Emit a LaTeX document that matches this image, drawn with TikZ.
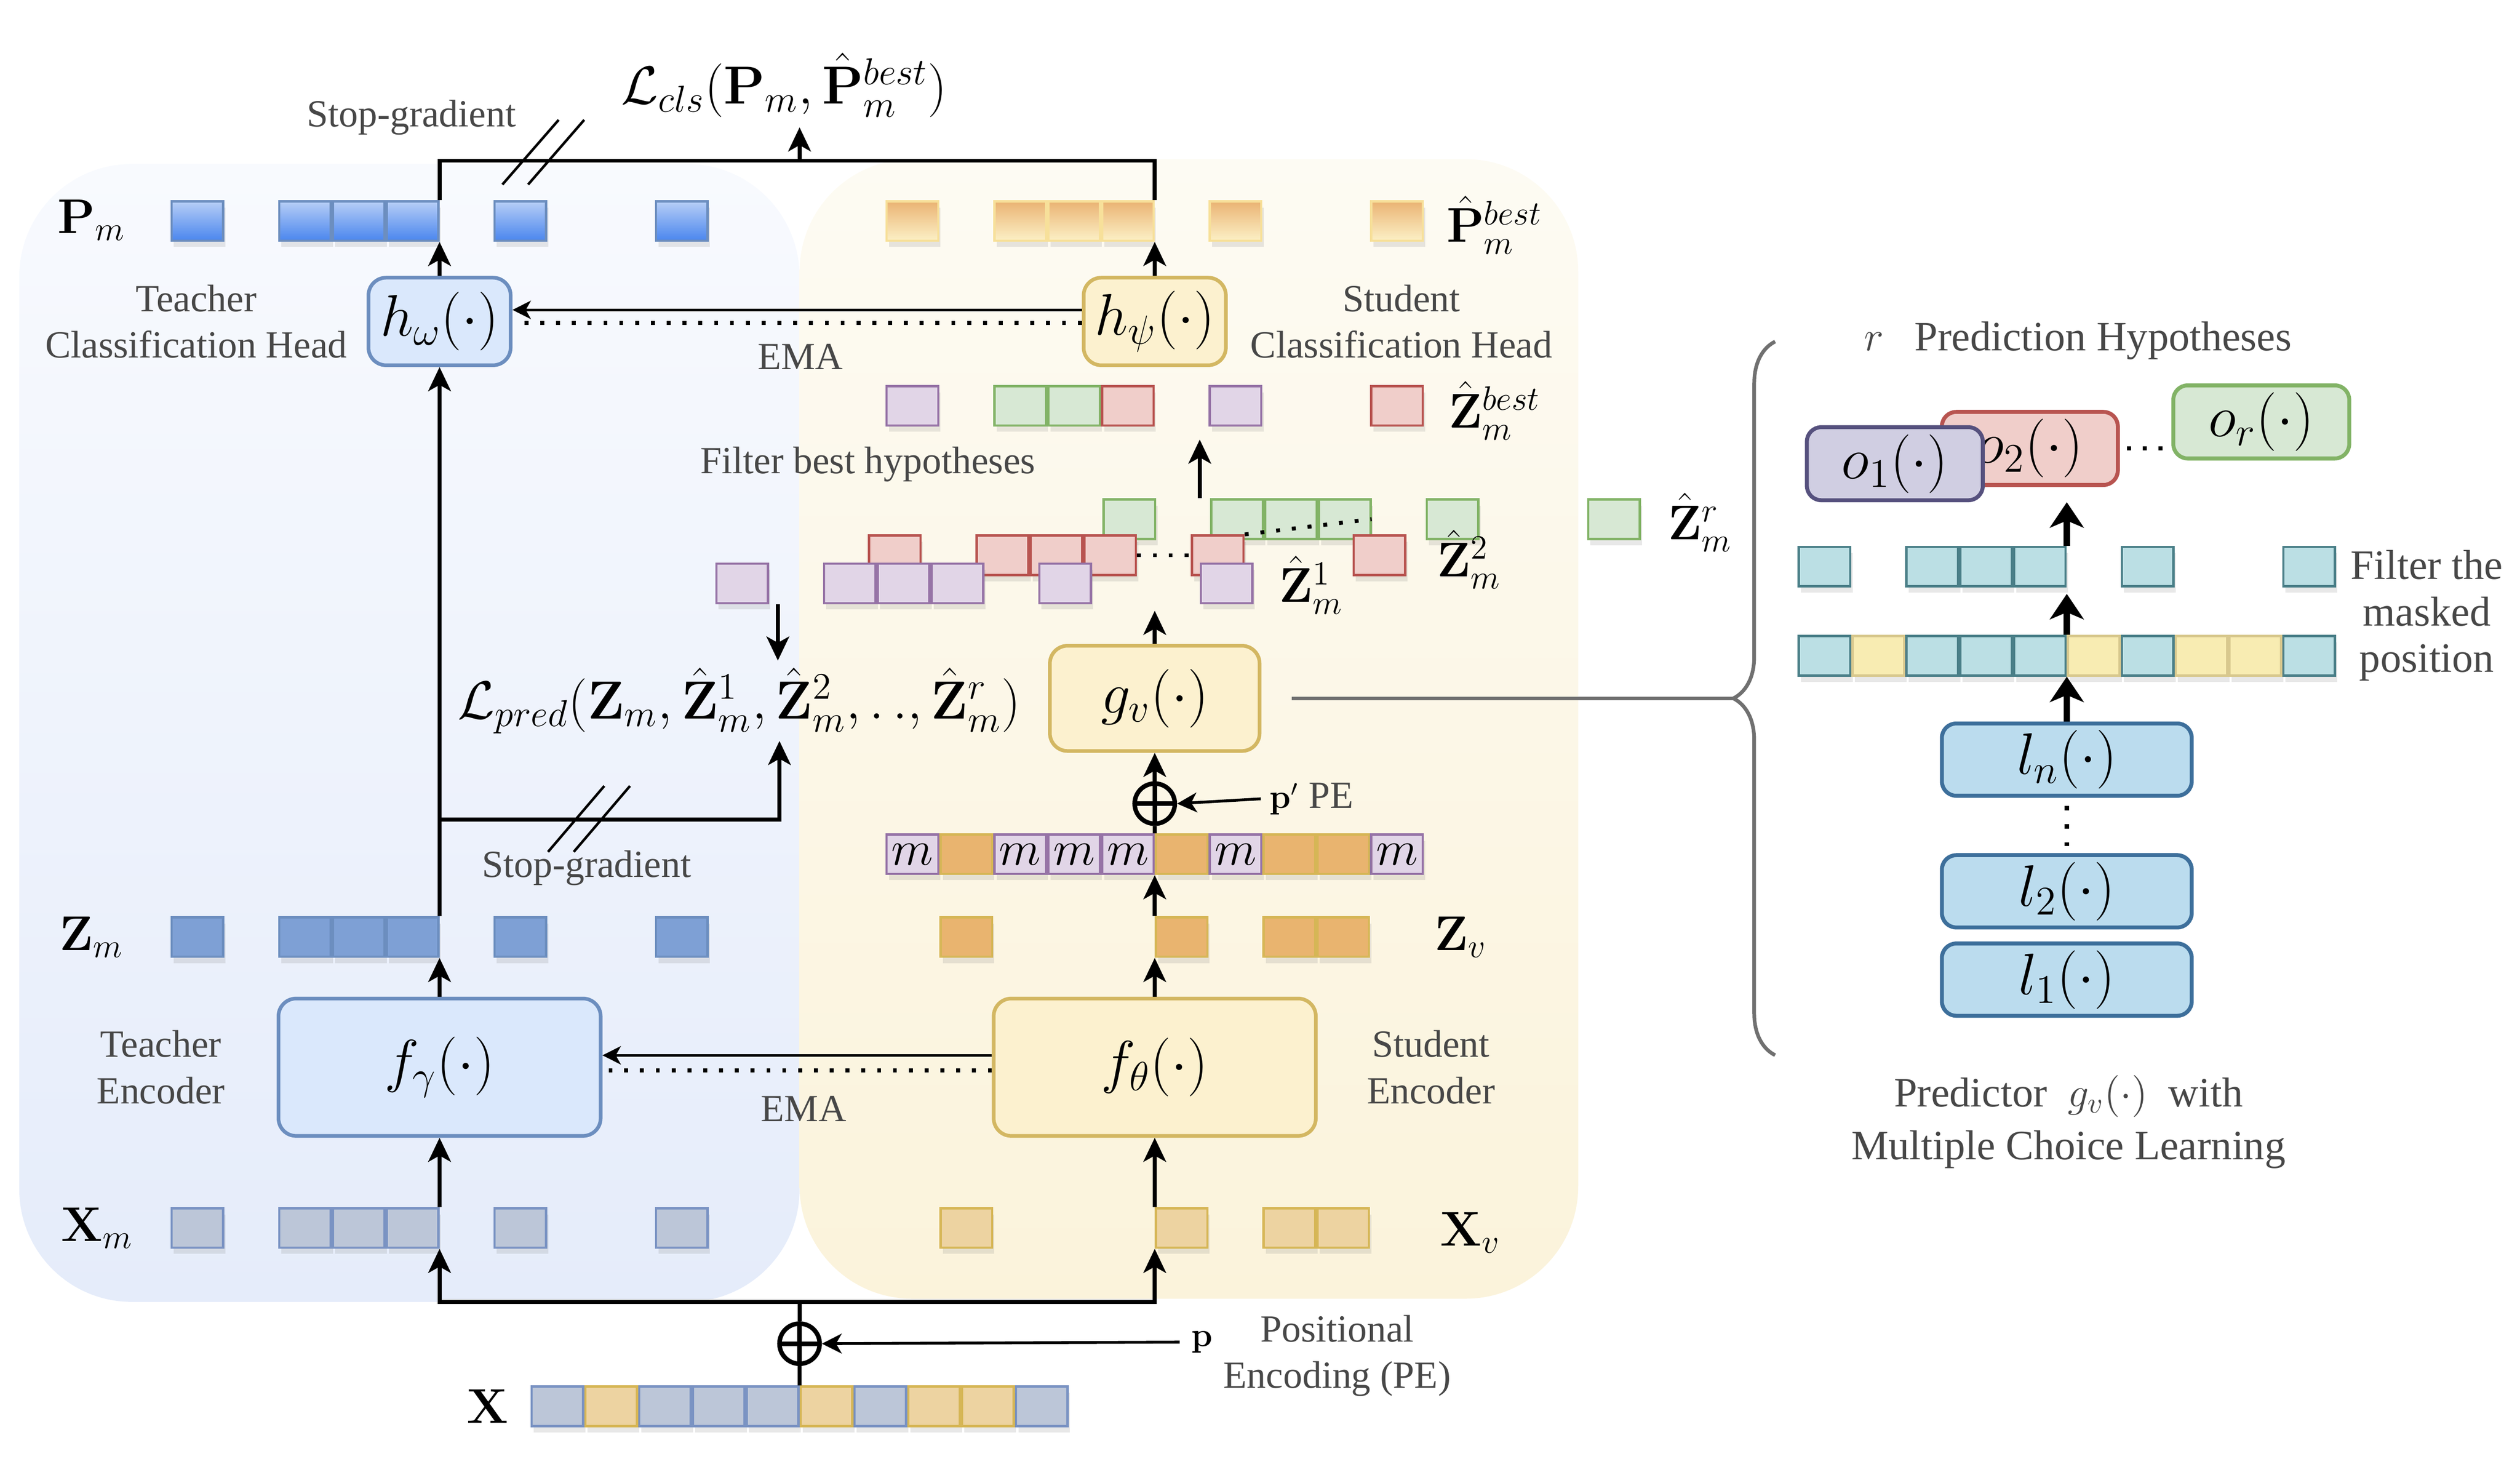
\RequirePackage{fix-cm}
\documentclass[tikz,border=0pt]{standalone}
\usepackage[no-math]{fontspec}
\setmainfont{Liberation Serif}
\usetikzlibrary{positioning, arrows.meta, shadows, decorations.pathreplacing}

%% Colours
\definecolor{tfill}{HTML}{DAE8FC}
\definecolor{tdraw}{HTML}{6C8EBF}
\definecolor{sfill}{HTML}{FCF1CF}
\definecolor{sdraw}{HTML}{D3B762}
\definecolor{pmtop}{HTML}{B7CEF6}
\definecolor{pmbot}{HTML}{4A86EE}
\definecolor{zmfill}{HTML}{7EA0D5}
\definecolor{xmfill}{HTML}{BCC6D8}
\definecolor{xmdraw}{HTML}{7A93C3}
\definecolor{pbtop}{HTML}{EAB373}
\definecolor{pbbot}{HTML}{FCF0C6}
\definecolor{pbdraw}{HTML}{F7E09A}
\definecolor{zvfill}{HTML}{E9B46F}
\definecolor{xvfill}{HTML}{EDD3A1}
\definecolor{vdraw}{HTML}{D6B656}
\definecolor{purpfill}{HTML}{E1D5E7}
\definecolor{purpdraw}{HTML}{9673A6}
\definecolor{redfill}{HTML}{F0CECA}
\definecolor{reddraw}{HTML}{B85450}
\definecolor{grnfill}{HTML}{D7E8D4}
\definecolor{grndraw}{HTML}{82B366}
\definecolor{cyanfill}{HTML}{BBDFE4}
\definecolor{cyandraw}{HTML}{4A7F88}
\definecolor{yelfill}{HTML}{F8ECB2}
\definecolor{yeldraw}{HTML}{D8C88E}
\definecolor{lfill}{HTML}{BBDCEE}
\definecolor{ldraw}{HTML}{3D6F9B}
\definecolor{ofill}{HTML}{D0CEE2}
\definecolor{odraw}{HTML}{56517E}
\definecolor{tbgtop}{HTML}{F8FAFE}
\definecolor{tbgbot}{HTML}{E5ECFA}
\definecolor{sbgtop}{HTML}{FDFBF3}
\definecolor{sbgbot}{HTML}{FBF3DB}
\definecolor{txtgray}{HTML}{474747}
\definecolor{bracegray}{HTML}{707070}

\begin{document}
\begin{tikzpicture}[
    x=0.02cm, y=-0.02cm, %% One unit is one pixel of the sketch, y grows downwards
    cell/.style={
        rectangle,
        draw,
        line width=0.8pt,
        minimum width=0.642cm,
        minimum height=0.492cm,
        inner sep=0pt,
        font=\LARGE,
        drop shadow={shadow xshift=0.8pt, shadow yshift=-2.2pt, opacity=0.18}
    },
    pm_cell/.style={cell, draw=tdraw, top color=pmtop, bottom color=pmbot},
    zm_cell/.style={cell, draw=tdraw, fill=zmfill},
    xm_cell/.style={cell, draw=xmdraw, fill=xmfill},
    pb_cell/.style={cell, draw=pbdraw, top color=pbtop, bottom color=pbbot},
    zv_cell/.style={cell, draw=vdraw, fill=zvfill},
    xv_cell/.style={cell, draw=vdraw, fill=xvfill},
    hp_cell/.style={cell, draw=purpdraw, fill=purpfill},
    hr_cell/.style={cell, draw=reddraw, fill=redfill},
    hg_cell/.style={cell, draw=grndraw, fill=grnfill},
    cy_cell/.style={cell, draw=cyandraw, fill=cyanfill},
    ye_cell/.style={cell, draw=yeldraw, fill=yelfill},
    t_box/.style={
        rectangle,
        rounded corners=0.22cm,
        draw=tdraw,
        fill=tfill,
        line width=1.3pt,
        inner sep=2pt,
        font=\huge
    },
    s_box/.style={t_box, draw=sdraw, fill=sfill},
    l_box/.style={
        rectangle,
        rounded corners=0.18cm,
        draw=ldraw,
        fill=lfill,
        line width=1.4pt,
        minimum width=3.11cm,
        minimum height=0.9cm,
        inner sep=2pt,
        font=\huge
    },
    o_box/.style={l_box, minimum width=2.19cm, minimum height=0.91cm},
    plus/.style={
        circle,
        draw,
        line width=1.6pt,
        minimum size=0.5cm,
        inner sep=0pt,
        path picture={\draw[line width=1.6pt]
            (path picture bounding box.north) -- (path picture bounding box.south)
            (path picture bounding box.west) -- (path picture bounding box.east);}
    },
    lbl/.style={font=\fontsize{13.6}{16.5}\selectfont, text=txtgray, align=center},
    rlbl/.style={font=\fontsize{14.8}{16.5}\selectfont, text=txtgray, align=center},
    mlbl/.style={font=\LARGE, text=black},
    big_math/.style={font=\fontsize{19}{22}\selectfont},
    arrow/.style={-{Stealth[length=8.5pt, width=8pt, inset=2.2pt]}, line width=1.4pt},
    ema_arrow/.style={-{Stealth[length=6.5pt, width=6.5pt, inset=1.8pt]}, line width=0.9pt},
    pe_arrow/.style={-{Stealth[length=7pt, width=7pt, inset=2pt]}, line width=1pt},
    big_arrow/.style={-{Stealth[length=9pt, width=12pt, inset=2.5pt]}, line width=2.2pt},
    link/.style={line width=1.4pt},
    dot_line/.style={line width=1.4pt, dash pattern=on 1.4pt off 4.2pt},
    slash/.style={line width=0.9pt},
    brace_link/.style={draw=bracegray, line width=1.3pt}
]
\useasboundingbox (0,0) rectangle (1568,912.5);

%% Background Regions
\path[top color=tbgtop, bottom color=tbgbot, rounded corners=1.4cm] (12,102) rectangle (497.5,810);
\path[top color=sbgtop, bottom color=sbgbot, rounded corners=1.4cm] (497.5,99) rectangle (982,808);

%% Input Row
\foreach \k in {1,3,4,5,7,10} \node[xm_cell] (x\k) at ({330+(\k-0.5)*33.5},875) {};
\foreach \k in {2,6,8,9} \node[xv_cell] (x\k) at ({330+(\k-0.5)*33.5},875) {};
\node[mlbl] (x_lbl) at (303.5,875) {$\mathbf{X}$};
\node[plus] (plus_in) at (497.5,836) {};
\node[font=\large, inner sep=4pt] (p_in) at (748,835) {$\mathbf{p}$};
\node[lbl] (pe_lbl) at (832,843.5) {Positional\\Encoding (PE)};
\coordinate (in_split) at (497.5,810);

%% Teacher Rows
\foreach \k in {1,3,4,5,7,10} {
    \node[pm_cell] (pm\k) at ({106+(\k-0.5)*33.5},137.5) {};
    \node[zm_cell] (zm\k) at ({106+(\k-0.5)*33.5},583) {};
    \node[xm_cell] (xm\k) at ({106+(\k-0.5)*33.5},764) {};
}
\node[mlbl] at (57,137) {$\mathbf{P}_m$};
\node[mlbl] at (57,583) {$\mathbf{Z}_m$};
\node[mlbl] at (60.5,764) {$\mathbf{X}_m$};

%% Teacher Blocks
\node[t_box, minimum width=4.01cm, minimum height=1.71cm] (t_enc) at (273.5,664) {$f_\gamma(\cdot)$};
\node[t_box, minimum width=1.77cm, minimum height=1.09cm] (t_head) at (273.5,200) {$h_\omega(\cdot)$};
\node[lbl, left=0.52cm of t_enc] {Teacher\\Encoder};
\node[lbl, left=0.12cm of t_head] {Teacher\\Classification Head};

%% Student Rows
\foreach \k in {1,3,4,5,7,10} \node[pb_cell] (pb\k) at ({551+(\k-0.5)*33.5},137.5) {};
\foreach \k/\f/\d in {1/purpfill/purpdraw, 3/grnfill/grndraw, 4/grnfill/grndraw,
                      5/redfill/reddraw, 7/purpfill/purpdraw, 10/redfill/reddraw}
    \node[cell, fill=\f, draw=\d] (zb\k) at ({551+(\k-0.5)*33.5},252.5) {};
\foreach \k in {1,3,4,5,7,10} \node[hp_cell] (mk\k) at ({551+(\k-0.5)*33.5},531.5) {$m$};
\foreach \k in {2,6,8,9} {
    \node[zv_cell] (mk\k) at ({551+(\k-0.5)*33.5},531.5) {};
    \node[zv_cell] (zv\k) at ({551+(\k-0.5)*33.5},583) {};
    \node[xv_cell] (xv\k) at ({551+(\k-0.5)*33.5},764) {};
}
\node[mlbl] at (930,140) {$\hat{\mathbf{P}}^{best}_m$};
\node[mlbl] at (930,255.5) {$\hat{\mathbf{Z}}^{best}_m$};
\node[mlbl] at (909,583) {$\mathbf{Z}_v$};
\node[mlbl] at (915,767) {$\mathbf{X}_v$};

%% Hypotheses Stack
\foreach \k in {1,3,4,5,7,10} \node[hg_cell] (hg\k) at ({686+(\k-0.5)*33.5},323) {};
\foreach \k in {1,3,4,5,7,10} \node[hr_cell] (hr\k) at ({540+(\k-0.5)*33.5},345.5) {};
\foreach \k in {1,3,4,5,7,10} \node[hp_cell] (hp\k) at ({445+(\k-0.5)*33.5},363) {};
\node[mlbl] at (816,364) {$\hat{\mathbf{Z}}^1_m$};
\node[mlbl] at (914,348) {$\hat{\mathbf{Z}}^2_m$};
\node[mlbl] at (1058,325) {$\hat{\mathbf{Z}}^r_m$};
\node[lbl] at (540,289) {Filter best hypotheses};

%% Student Blocks
\node[s_box, minimum width=4.01cm, minimum height=1.71cm] (s_enc) at (718.5,664) {$f_\theta(\cdot)$};
\node[s_box, minimum width=2.61cm, minimum height=1.31cm] (pred) at (718.5,434.5) {$g_v(\cdot)$};
\node[s_box, minimum width=1.77cm, minimum height=1.09cm] (s_head) at (718.5,200) {$h_\psi(\cdot)$};
\node[lbl, right=0.49cm of s_enc] {Student\\Encoder};
\node[lbl, right=0.16cm of s_head] {Student\\Classification Head};
\node[plus] (plus_s) at (718.5,500) {};
\node[anchor=west, lbl, inner sep=3pt] (p_s) at (784.5,497) {{\large\color{black}$\mathbf{p}'$}\ \color{txtgray}PE};

%% Losses
\node[big_math] (l_cls) at (488,53) {$\mathcal{L}_{cls}(\mathbf{P}_m, \hat{\mathbf{P}}^{best}_m)$};
\node[big_math] (l_pred) at (460,436) {$\mathcal{L}_{pred}(\mathbf{Z}_m, \hat{\mathbf{Z}}^1_m, \hat{\mathbf{Z}}^2_m, .\,., \hat{\mathbf{Z}}^r_m)$};
\coordinate (cls_split) at (497.5,100);
\coordinate (sg_split) at (273.5,510);
\coordinate (pred_in) at (485,461);
\coordinate (pred_top) at (484,411);

%% Input Connections
\draw[link] (x5.north east) -- (plus_in.south);
\draw[link] (plus_in.north) -- (in_split);
\draw[arrow] (in_split) -| (xm5.south east);
\draw[arrow] (in_split) -| (xv6.south west);
\draw[pe_arrow] (p_in.west) -- (plus_in.east);

%% Teacher Connections
\draw[arrow] (xm5.north east) -- (t_enc.south);
\draw[arrow] (t_enc.north) -- (zm5.south east);
\draw[arrow] (zm5.north east) -- (t_head.south);
\draw[arrow] (t_head.north) -- (pm5.south east);

%% Student Connections
\draw[arrow] (xv6.north west) -- (s_enc.south);
\draw[arrow] (s_enc.north) -- (zv6.south west);
\draw[arrow] (zv6.north west) -- (mk6.south west);
\draw[link] (mk6.north west) -- (plus_s.south);
\draw[arrow] (plus_s.north) -- (pred.south);
\draw[pe_arrow] (p_s.west) -- (plus_s.east);
\draw[arrow, shorten >=0.08cm] (pred.north) -- (pred.north |- hp7.south);
\draw[arrow, shorten >=0.16cm] (hp10.north west |- hg3.north) -- (hp10.north west |- zb7.south);
\draw[arrow] (s_head.north) -- (pb5.south east);
\draw[dot_line] (hr5.east) -- (hr7.west);
\draw[dot_line] (hr7.north east) -- (hg5.east);

%% EMA Connections
\draw[ema_arrow] ([yshift=0.148cm]s_enc.west) -- ([yshift=0.148cm]t_enc.east);
\draw[dot_line] ([yshift=-0.04cm]s_enc.west) -- ([yshift=-0.04cm, xshift=0.08cm]t_enc.east);
\node[lbl] at (500,690) {EMA};
\draw[ema_arrow] ([yshift=0.144cm]s_head.west) -- ([yshift=0.144cm]t_head.east);
\draw[dot_line] ([yshift=-0.02cm]s_head.west) -- ([yshift=-0.02cm, xshift=0.08cm]t_head.east);
\node[lbl] at (498,222) {EMA};

%% Loss Connections
\draw[link] (pm5.north east) |- (cls_split) -| (pb5.north east);
\draw[arrow] (cls_split) -- (cls_split |- l_cls.south);
\draw[slash] (312.6,114.8) -- (347.6,74.6) (328.6,114.8) -- (363.5,74.6);
\node[lbl] at (256,73) {Stop-gradient};
\draw[arrow] (sg_split) -| (pred_in);
\draw[arrow] (pred_top |- hp1.south) -- (pred_top);
\draw[slash] (341,530) -- (376,489) (357,530) -- (392,489);
\node[lbl] at (365,540) {Stop-gradient};

%% Predictor Detail
\coordinate (brace_tip) at (1079,434.5);
\draw[brace_link, shorten <=0.38cm] (pred.east) -- (brace_tip);
\draw[brace_link, decorate, decoration={brace, amplitude=0.52cm}] (1104.5,656.5) -- (1104.5,212.5);

\node[l_box] (l_1) at (1286,609.5) {$l_1(\cdot)$};
\node[l_box, above=0.15cm of l_1] (l_2) {$l_2(\cdot)$};
\node[l_box, above=0.69cm of l_2] (l_n) {$l_n(\cdot)$};
\draw[line width=1.6pt, dash pattern=on 1.6pt off 4.9pt, shorten <=0.1cm, shorten >=0.09cm] (l_n.south) -- (l_2.north);

\foreach \k in {1,3,4,5,7,10} \node[cy_cell] (fl\k) at ({1118.5+(\k-0.5)*33.5},408) {};
\foreach \k in {2,6,8,9} \node[ye_cell] (fl\k) at ({1118.5+(\k-0.5)*33.5},408) {};
\foreach \k in {1,3,4,5,7,10} \node[cy_cell] (ft\k) at ({1118.5+(\k-0.5)*33.5},352.5) {};
\node[rlbl] at (1510,383) {Filter the\\masked\\position};

\node[o_box, draw=reddraw, fill=redfill] (o_2) at (1263,279) {$o_2(\cdot)$};
\node[o_box, draw=odraw, fill=ofill] (o_1) at (1179,288.5) {$o_1(\cdot)$};
\node[o_box, draw=grndraw, fill=grnfill] (o_r) at (1407,262.5) {$o_r(\cdot)$};
\draw[dot_line, shorten <=2.5pt, shorten >=2pt] (o_2.east) -- (o_r.west |- o_2.east);
\node[rlbl] at (1293,212) {$r$\hspace{0.38cm}Prediction Hypotheses};

\draw[big_arrow] (l_n.north) -- (fl5.south east);
\draw[big_arrow, shorten >=0.08cm] (fl5.north east) -- (ft5.south east);
\draw[big_arrow] (ft5.north east) -- (ft5.north east |- o_1.south);
\node[rlbl] at (1287,698) {Predictor\ \ $g_v(\cdot)$\ \ with\\[2.3pt]Multiple Choice Learning};

\end{tikzpicture}
\end{document}
